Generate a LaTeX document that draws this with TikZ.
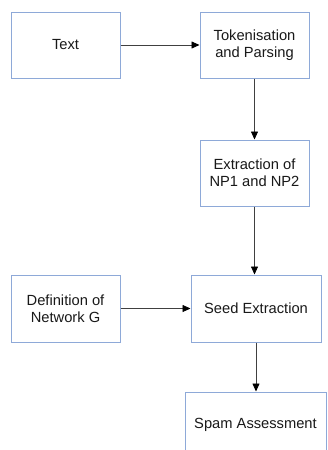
\documentclass[tikz,border=0pt]{standalone}
\usepackage{fontspec}
\setmainfont{Liberation Sans}
\usetikzlibrary{arrows.meta}
\definecolor{boxblue}{HTML}{8EA9D8}
\begin{document}
\begin{tikzpicture}[x=1pt,y=-1pt,
  procbox/.style={draw=boxblue, line width=1pt, fill=white, align=center, inner sep=0pt,
    font=\fontsize{14.7pt}{16.8pt}\selectfont, text=black!90},
  flow/.style={draw=black!75, line width=0.8pt, -{Triangle[length=8pt,width=7pt,fill=black,color=black]}}]
\useasboundingbox (0,0) rectangle (327,450);
\clip (0,0) rectangle (327,450);
\node[procbox, minimum width=109pt, minimum height=66pt] (text) at (65.5,45) {Text};
\node[procbox, minimum width=109pt, minimum height=66pt] (tok) at (254.5,45) {Tokenisation\\and Parsing};
\node[procbox, minimum width=109pt, minimum height=66pt] (np) at (254.5,173) {Extraction of\\NP1 and NP2};
\node[procbox, minimum width=109pt, minimum height=67pt] (def) at (65.5,308.5) {Definition of\\Network G};
\node[procbox, minimum width=130pt, minimum height=67pt] (seed) at (256,308.5) {Seed Extraction};
\node[procbox, minimum width=141pt, minimum height=65pt] (spam) at (255.5,424.5) {Spam Assessment};
\draw[flow] (text) -- (tok);
\draw[flow] (tok.south) -- (np.north);
\draw[flow] (np.south) -- (np.south |- seed.north);
\draw[flow] (def) -- (seed);
\draw[flow] (seed.south) -- (seed.south |- spam.north);
\end{tikzpicture}
\end{document}
